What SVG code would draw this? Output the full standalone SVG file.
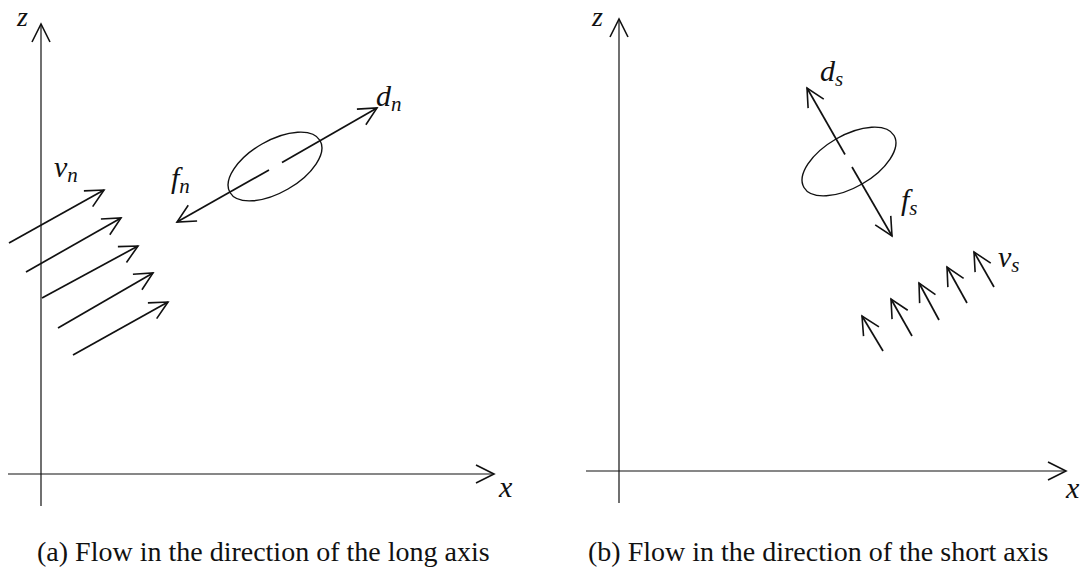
<svg xmlns="http://www.w3.org/2000/svg" width="1086" height="583" viewBox="0 0 1086 583">
<style>
.ax{stroke:#111;stroke-width:1.2;fill:none}
.vec{stroke:#111;stroke-width:1.7;fill:none}
.ell{stroke:#111;stroke-width:1.4;fill:none}
.m{font-family:"Liberation Serif","DejaVu Serif",serif;font-style:italic;font-size:30px;fill:#111}
.zl{font-size:28px}
.sub{font-size:21px}
.cap{font-family:"Liberation Serif","Times New Roman",serif;font-size:28px;fill:#111}
</style>
<defs>
<marker id="v" markerUnits="userSpaceOnUse" markerWidth="30" markerHeight="30" viewBox="-25 -15 30 30" refX="0" refY="0" orient="auto-start-reverse">
<path d="M-18,-9 L0,0 L-18,9" fill="none" stroke="#111" stroke-width="1.6"/>
</marker>
</defs>
<rect width="1086" height="583" fill="#fff"/>

<g id="panel-a">
<g id="axes-a">
<line class="ax" x1="41" y1="506" x2="41" y2="24" marker-end="url(#v)"/>
<line class="ax" x1="8" y1="474" x2="494" y2="474" marker-end="url(#v)"/>
<text class="m zl" x="17" y="26">z</text>
<text class="m" x="499" y="497">x</text>
</g>
<g id="particle-a">
<ellipse class="ell" cx="275" cy="166.5" rx="52" ry="26" transform="rotate(-30 275 166.5)"/>
</g>
<g id="connectors-a">
<line class="vec" x1="269" y1="170" x2="177" y2="222" marker-end="url(#v)"/>
<line class="vec" x1="282" y1="162.5" x2="377" y2="108" marker-end="url(#v)"/>
<line class="vec" x1="9" y1="243" x2="104" y2="190" marker-end="url(#v)"/>
<line class="vec" x1="26" y1="272" x2="121" y2="218" marker-end="url(#v)"/>
<line class="vec" x1="42" y1="298" x2="138" y2="246" marker-end="url(#v)"/>
<line class="vec" x1="58" y1="328" x2="153" y2="273" marker-end="url(#v)"/>
<line class="vec" x1="73" y1="355" x2="168" y2="302" marker-end="url(#v)"/>
</g>
<g id="labels-a">
<text class="m" x="376" y="106">d<tspan class="sub" dy="5">n</tspan></text>
<text class="m" x="171" y="188">f<tspan class="sub" dy="5">n</tspan></text>
<text class="m" x="54" y="177">v<tspan class="sub" dy="5">n</tspan></text>
</g>
<text class="cap" x="37" y="561">(a) Flow in the direction of the long axis</text>
</g>

<g id="panel-b">
<g id="axes-b">
<line class="ax" x1="619" y1="503" x2="619" y2="19" marker-end="url(#v)"/>
<line class="ax" x1="586" y1="471" x2="1066" y2="471" marker-end="url(#v)"/>
<text class="m zl" x="592" y="26">z</text>
<text class="m" x="1066" y="498">x</text>
</g>
<g id="particle-b">
<ellipse class="ell" cx="849" cy="161.5" rx="52" ry="26" transform="rotate(-30 849 161.5)"/>
</g>
<g id="connectors-b">
<line class="vec" x1="845" y1="154.5" x2="807" y2="88" marker-end="url(#v)"/>
<line class="vec" x1="852" y1="167" x2="892" y2="236" marker-end="url(#v)"/>
<line class="vec" x1="883" y1="351" x2="862" y2="316" marker-end="url(#v)"/>
<line class="vec" x1="912" y1="336" x2="891" y2="299" marker-end="url(#v)"/>
<line class="vec" x1="939" y1="320" x2="919" y2="283" marker-end="url(#v)"/>
<line class="vec" x1="967" y1="303" x2="947" y2="267" marker-end="url(#v)"/>
<line class="vec" x1="994" y1="287" x2="974" y2="252" marker-end="url(#v)"/>
</g>
<g id="labels-b">
<text class="m" x="820" y="81">d<tspan class="sub" dy="5">s</tspan></text>
<text class="m" x="901" y="210">f<tspan class="sub" dy="5">s</tspan></text>
<text class="m" x="998" y="267">v<tspan class="sub" dy="5">s</tspan></text>
</g>
<text class="cap" x="588" y="561">(b) Flow in the direction of the short axis</text>
</g>
</svg>
